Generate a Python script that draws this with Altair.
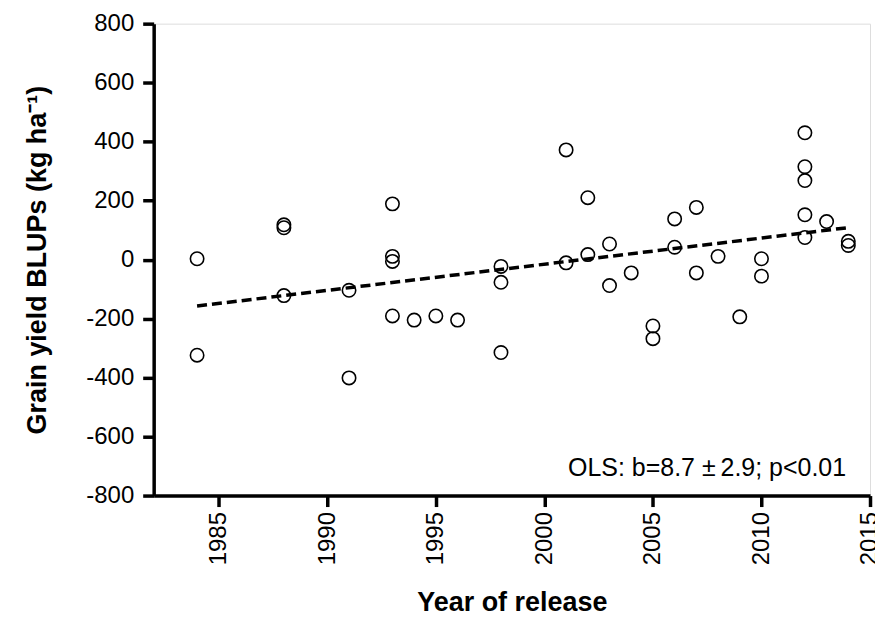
import altair as alt
import pandas as pd

years = [1984, 1984, 1988, 1988, 1988, 1991, 1991, 1993, 1993, 1993, 1993, 1994, 1995, 1996,
         1998, 1998, 1998, 2001, 2001, 2002, 2002, 2003, 2003, 2004, 2005, 2005, 2006, 2006,
         2007, 2007, 2008, 2009, 2010, 2010, 2012, 2012, 2012, 2012, 2012, 2013, 2014, 2014]
blups = [3, -324, 118, 108, -122, -104, -401, 189, 11, -6, -191, -205, -191, -205,
         -23, -77, -315, 372, -11, 210, 17, 53, -88, -45, -225, -268, 138, 42,
         177, -45, 11, -194, 3, -56, 430, 315, 268, 152, 75, 129, 62, 48]

x_ticks = [1985, 1990, 1995, 2000, 2005, 2010, 2015]
y_ticks = [-800, -600, -400, -200, 0, 200, 400, 600, 800]
note = ["OLS: b=8.7 \u00b1\u20092.9; p<0.01"]

df = pd.DataFrame({"year": years, "blup": blups})

FONT = "Liberation Sans"
W, H = 718, 473

x_scale = alt.Scale(domain=[1982, 2015], nice=False, zero=False)
y_scale = alt.Scale(domain=[-800, 800], nice=False, zero=False)

x_axis = alt.Axis(values=x_ticks, labelExpr="toString(datum.value)", labelAngle=-90,
                  title="Year of release",
                  grid=False, domainWidth=3.5, domainColor="black", tickWidth=3.5,
                  tickColor="black", tickSize=11, labelPadding=5, labelFontSize=24,
                  labelFont=FONT, labelColor="black", titleFont=FONT, titleFontSize=27,
                  titleFontWeight="bold", titleColor="black", titleY=115,
                  titleBaseline="alphabetic")
y_axis = alt.Axis(values=y_ticks, labelExpr="toString(datum.value)",
                  title="Grain yield BLUPs (kg ha\u207b\u00b9)", grid=False,
                  domainWidth=3.5, domainColor="black", tickWidth=3.5, tickColor="black",
                  tickSize=11, labelPadding=9, labelFontSize=24, labelFont=FONT,
                  labelColor="black", titleFont=FONT, titleFontSize=27, titleFontWeight="bold",
                  titleColor="black", titleX=-116, titleY=H / 2, titleBaseline="middle",
                  titleAngle=-90)

base = alt.Chart(df)

points = base.mark_point(shape="circle", filled=False, size=180, color="black",
                         strokeWidth=1.6, opacity=1).encode(
    x=alt.X("year:Q", scale=x_scale, axis=x_axis),
    y=alt.Y("blup:Q", scale=y_scale, axis=y_axis),
)

line = base.transform_regression("year", "blup").mark_line(
    color="black", strokeDash=[10, 5], strokeWidth=3.5).encode(
    x=alt.X("year:Q", scale=x_scale),
    y=alt.Y("blup:Q", scale=y_scale),
)

text = alt.Chart(pd.DataFrame({"label": note})).mark_text(
    align="right", baseline="alphabetic", font=FONT, fontSize=25, color="black").encode(
    x=alt.value(694), y=alt.value(453), text="label:N")

chart = alt.layer(line, points, text).properties(
    width=W, height=H,
    autosize=alt.AutoSizeParams(type="none"),
    padding={"left": 146, "top": 15, "right": 5, "bottom": 117},
).configure_view(stroke=None).configure(background="white")

chart.save("out.html", embed_options={"renderer": "svg", "actions": False})
